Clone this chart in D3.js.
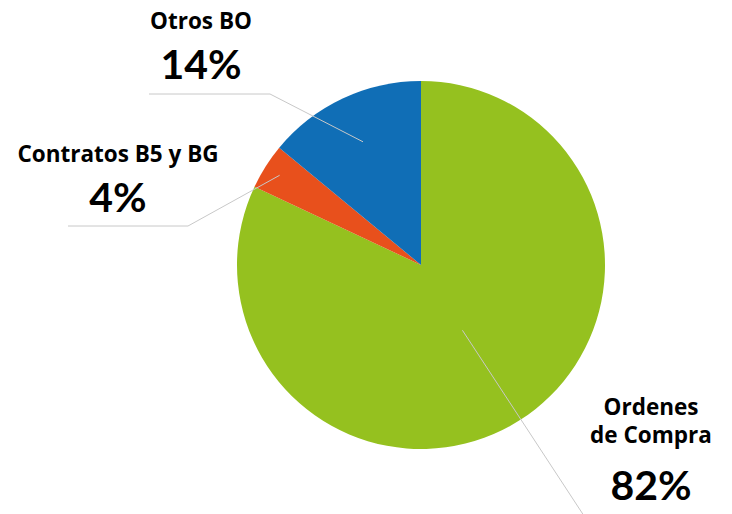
<!DOCTYPE html>
<html lang="es">
<head>
<meta charset="UTF-8">
<title>Pie</title>
<script src="https://cdnjs.cloudflare.com/ajax/libs/d3/7.8.5/d3.min.js"></script>
<style>
    body { margin: 0; background: #fff; }
    .lbl { font-family: "Open Sans", sans-serif; font-weight: 700; fill: #000; }
    .pct { font-family: Lato, sans-serif; font-weight: 700; fill: #000; }
    .leader { fill: none; stroke: #c8c8c8; stroke-width: 1; }
</style>
</head>
<body>
<script>
    // data
    var categories = ["Ordenes de Compra", "Contratos B5 y BG", "Otros BO"];
    var shares = [82, 4, 14];
    var colors = ["#95c11f", "#e8501c", "#106eb6"];

    // label layout (lines of text, where the text sits, leader line path)
    var labelLines = [["Ordenes", "de Compra"], ["Contratos B5 y BG"], ["Otros BO"]];
    var labelPos = [[651, 415], [118, 162], [201, 29]];
    var pctOffset = [85, 50, 50];
    var leaderStart = [0.42, 0.91, 0.74];
    var leaderElbow = [[590, 525], [188, 226], [270, 94]];
    var leaderEnd = [[590, 525], [68, 226], [149, 94]];

    var W = 732, H = 514;
    var cx = 421, cy = 265, r = 184;

    var svg = d3.select("body").append("svg")
        .attr("width", W).attr("height", H);

    var pie = d3.pie().sort(null).value(function(d) { return d; });
    var arcs = pie(shares);
    var arc = d3.arc().innerRadius(0).outerRadius(r);

    var g = svg.append("g").attr("transform", "translate(" + cx + "," + cy + ")");

    g.selectAll("path.slice")
        .data(arcs)
        .enter().append("path")
        .attr("class", "slice")
        .attr("d", arc)
        .attr("fill", function(d, i) { return colors[i]; });

    // leader lines
    var line = d3.line();
    arcs.forEach(function(d, i) {
        var mid = (d.startAngle + d.endAngle) / 2;
        var rr = r * leaderStart[i];
        var p0 = [cx + rr * Math.sin(mid), cy - rr * Math.cos(mid)];
        svg.append("path")
            .attr("class", "leader")
            .attr("d", line([p0, leaderElbow[i], leaderEnd[i]]));
    });

    // labels
    categories.forEach(function(c, i) {
        var t = svg.append("text")
            .attr("class", "lbl")
            .attr("text-anchor", "middle")
            .style("font-size", "22.5px");
        labelLines[i].forEach(function(s, j) {
            t.append("tspan")
                .attr("x", labelPos[i][0])
                .attr("y", labelPos[i][1] + j * 28)
                .text(s);
        });
        svg.append("text")
            .attr("class", "pct")
            .attr("text-anchor", "middle")
            .attr("x", labelPos[i][0])
            .attr("y", labelPos[i][1] + pctOffset[i])
            .style("font-size", "41px")
            .text(shares[i] + "%");
    });
</script>
</body>
</html>
